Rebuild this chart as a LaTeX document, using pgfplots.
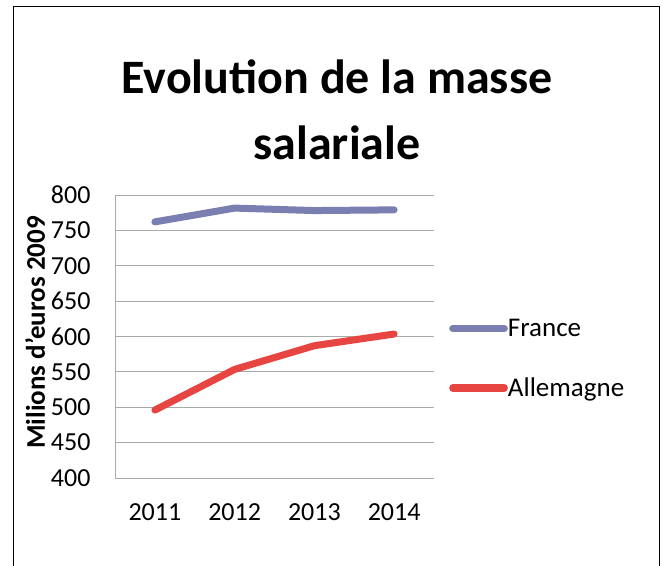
\documentclass[border=0pt]{standalone}
\usepackage{fontspec}
\setmainfont{Carlito}
\usepackage{pgfplots}
\pgfplotsset{compat=1.18}
\definecolor{frc}{RGB}{122,126,176}
\definecolor{dec}{RGB}{230,69,66}
\definecolor{gridc}{RGB}{170,170,170}
\begin{document}
\begin{tikzpicture}[x=1pt,y=1pt]
\useasboundingbox (0,0) rectangle (663,565);
\draw[line width=1pt] (13,-2) -- (13,558) -- (659,558) -- (659,-2);
\node[font=\bfseries\fontsize{48}{60}\selectfont, anchor=base] at (337,471) {Evolution de la masse};
\node[font=\bfseries\fontsize{48}{60}\selectfont, anchor=base] at (337,405) {salariale};
\begin{axis}[
  at={(115pt,87pt)}, anchor=south west,
  scale only axis, width=319pt, height=283pt,
  xmin=0.5, xmax=4.5, ymin=400, ymax=800,
  ytick={400,450,...,800},
  xtick={1,2,3,4}, xticklabels={2011,2012,2013,2014},
  axis x line*=bottom, axis y line*=left,
  axis line style={gridc, line width=1pt},
  ymajorgrids, major grid style={gridc, line width=1pt},
  major tick length=0pt,
  tick label style={font=\fontsize{26}{30}\selectfont},
  /pgf/number format/assume math mode=true,
  yticklabel style={xshift=-21pt},
  xticklabel style={yshift=-22pt},
  ylabel={Milions d'euros 2009},
  every axis y label/.style={at={(axis description cs:-0.25,0.514)}, rotate=90, anchor=center,
    font=\bfseries\fontsize{27}{30}\selectfont},
  legend style={at={(axis description cs:1.047,0.422)}, anchor=west, draw=none, fill=none,
    inner sep=0pt, row sep=40pt, font=\fontsize{27}{32}\selectfont,
    nodes={inner sep=0pt, outer sep=0pt}},
  legend cell align=left,
  legend image code/.code={\draw[#1, line width=7.5pt, line cap=round] (3.75pt,0pt) -- (55pt,0pt);},
]
\addplot[frc, line width=7pt, line cap=round, line join=round] coordinates {(1,762) (2,781.5) (3,778) (4,779)};
\addlegendentry{France}
\addplot[dec, line width=7pt, line cap=round, line join=round] coordinates {(1,496) (2,553.5) (3,587) (4,603.5)};
\addlegendentry{Allemagne}
\end{axis}
\end{tikzpicture}
\end{document}
